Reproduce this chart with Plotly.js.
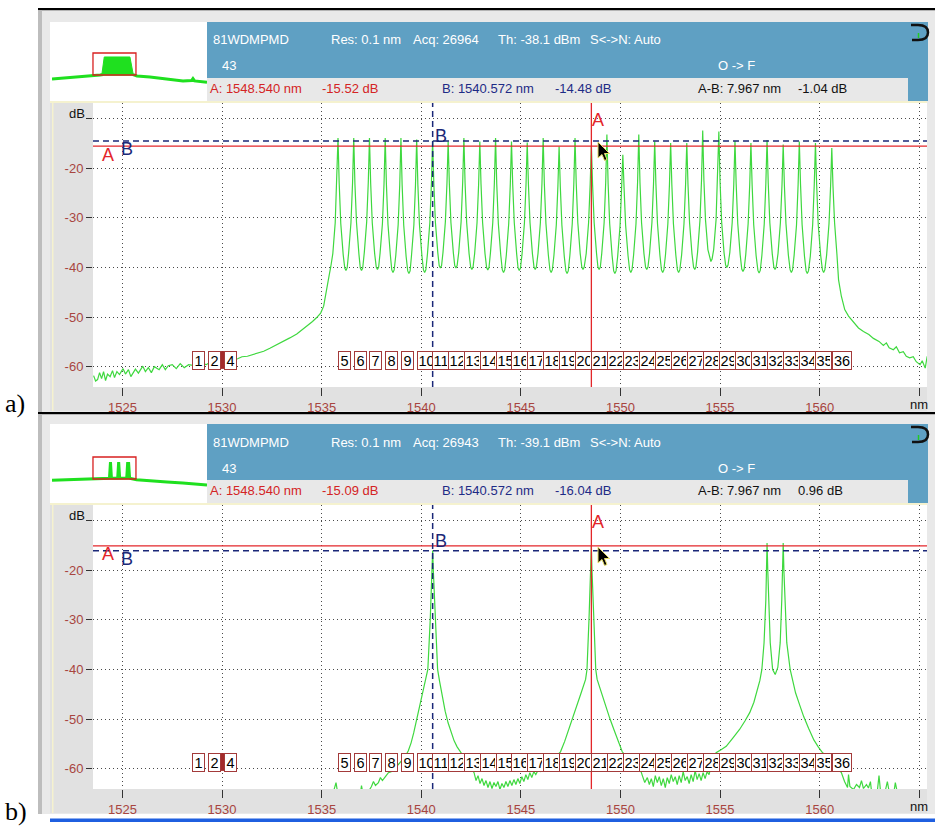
<!DOCTYPE html>
<html><head><meta charset="utf-8">
<script src="https://cdn.plot.ly/plotly-3.0.1.min.js"></script>
<style>html,body{margin:0;padding:0;background:#fff;}#chart{width:935px;height:826px;}</style>
</head><body><div id="chart"></div>
<script>
// ---------------- DATA ----------------
const panelLabels = ['a)', 'b)'];
const instrName = '81WDMPMD';
const resolutionNm = '0.1';
const traceNo = '43';
const acqCount = ['26964', '26943'];
const thresholdDbm = ['-38.1', '-39.1'];
const cursorA_nm = [1548.540, 1548.540];
const cursorA_dB = [-15.52, -15.09];
const cursorB_nm = [1540.572, 1540.572];
const cursorB_dB = [-14.48, -16.04];
const deltaAB_nm = ['7.967', '7.967'];
const deltaAB_dB = ['-1.04', '0.96'];

const xTickVals = [1525, 1530, 1535, 1540, 1545, 1550, 1555, 1560, 1565];
const xTickText = ['1525', '1530', '1535', '1540', '1545', '1550', '1555', '1560', ''];
const yTickVals = [-10, -20, -30, -40, -50, -60];
const yTickText = ['', '-20', '-30', '-40', '-50', '-60'];
const xRange = [1523.52, 1565.39];
const yRange = [-64.1, -6.84];

const chanLabels = ['1','2','4','5','6','7','8','9','10','11','12','13','14','15','16','17','18','19','20','21','22','23','24','25','26','27','28','29','30','31','32','33','34','35','36'];
const chanNm = [1528.49,1529.31,1530.10,1535.82,1536.61,1537.40,1538.19,1538.98,1539.77,1540.56,1541.35,1542.14,1542.94,1543.73,1544.53,1545.32,1546.12,1546.92,1547.72,1548.51,1549.32,1550.12,1550.92,1551.72,1552.52,1553.33,1554.13,1554.94,1555.75,1556.55,1557.36,1558.17,1558.98,1559.79,1560.61];
const chanBoxDb = -58.66;

// panel a spectrum [nm, dB]
const tailLeftA = [[1523.55,-61.8],[1523.65,-62.9],[1523.75,-62.6],[1523.85,-61.2],[1523.95,-62.4],[1524.05,-61.0],[1524.15,-62.8],[1524.25,-61.5],[1524.38,-62.0],[1524.5,-60.8],[1524.6,-62.2],[1524.72,-61.0],[1524.85,-61.6],[1525.03,-60.4],[1525.15,-61.5],[1525.3,-60.6],[1525.42,-62.0],[1525.53,-61.4],[1525.65,-60.5],[1525.8,-61.3],[1526.02,-59.9],[1526.15,-61.0],[1526.3,-60.2],[1526.45,-61.2],[1526.6,-60.0],[1526.84,-60.6],[1527.0,-59.6],[1527.15,-60.6],[1527.3,-59.8],[1527.5,-59.6],[1527.7,-60.4],[1527.9,-59.4],[1528.1,-60.2],[1528.32,-59.6],[1528.6,-59.8],[1528.9,-59.2],[1529.2,-59.6],[1529.5,-58.9],[1529.8,-59.3],[1530.1,-58.6],[1530.4,-59.0],[1530.78,-58.4],[1531.0,-58.0],[1531.27,-57.9],[1531.5,-57.6],[1531.8,-57.2],[1532.09,-56.9],[1532.4,-56.3],[1532.75,-55.6],[1533.1,-54.9],[1533.4,-54.2],[1533.75,-53.4],[1534.05,-52.5],[1534.3,-51.8],[1534.54,-50.9],[1534.75,-50.1],[1534.95,-49.2],[1535.1,-47.8],[1535.2,-45.8],[1535.3,-43.5],[1535.38,-41.5],[1535.46,-39.8]];
const peaksA = [
[1535.56,-37.2],[1535.68,-31.0],[1535.76,-23.2],[1535.82,-13.9],[1535.88,-23.0],[1535.96,-31.2],[1536.08,-37.4],[1536.16,-40.1],[1536.22,-40.6],[1536.28,-40.1],
[1536.35,-37.2],[1536.47,-31.0],[1536.55,-23.0],[1536.61,-13.9],[1536.67,-23.2],[1536.75,-31.0],[1536.87,-37.3],[1536.94,-40.1],[1537.00,-40.6],[1537.06,-40.1],
[1537.14,-37.0],[1537.26,-30.8],[1537.34,-22.8],[1537.40,-13.9],[1537.46,-23.0],[1537.54,-31.0],[1537.66,-37.2],[1537.74,-39.9],[1537.80,-40.4],[1537.86,-39.9],
[1537.93,-37.2],[1538.05,-31.2],[1538.13,-23.2],[1538.19,-13.9],[1538.25,-23.2],[1538.33,-31.4],[1538.45,-37.6],[1538.52,-40.5],[1538.58,-41.0],[1538.64,-40.5],
[1538.72,-37.6],[1538.84,-31.4],[1538.92,-23.3],[1538.98,-13.9],[1539.04,-23.4],[1539.12,-31.5],[1539.24,-37.8],[1539.32,-40.7],[1539.38,-41.2],[1539.44,-40.7],
[1539.51,-37.6],[1539.63,-31.4],[1539.71,-23.4],[1539.77,-14.2],[1539.83,-23.4],[1539.91,-31.4],[1540.03,-37.5],[1540.11,-40.5],[1540.17,-41.0],[1540.23,-40.5],
[1540.31,-37.3],[1540.43,-31.0],[1540.51,-23.0],[1540.57,-14.48],[1540.63,-23.0],[1540.71,-30.9],[1540.83,-37.0],[1540.90,-39.6],[1540.96,-40.1],[1541.02,-39.6],
[1541.09,-37.0],[1541.21,-30.8],[1541.29,-23.0],[1541.35,-14.6],[1541.41,-23.1],[1541.49,-31.0],[1541.61,-37.0],[1541.68,-39.6],[1541.74,-40.1],[1541.80,-39.6],
[1541.88,-37.0],[1542.00,-30.8],[1542.08,-22.8],[1542.14,-13.9],[1542.20,-23.0],[1542.28,-31.0],[1542.40,-37.2],[1542.48,-39.9],[1542.54,-40.4],[1542.60,-39.9],
[1542.68,-37.2],[1542.80,-31.0],[1542.88,-23.2],[1542.94,-14.6],[1543.00,-23.2],[1543.08,-31.0],[1543.20,-37.2],[1543.28,-40.0],[1543.34,-40.5],[1543.40,-40.0],
[1543.47,-37.2],[1543.59,-31.0],[1543.67,-23.0],[1543.73,-13.9],[1543.79,-23.2],[1543.87,-31.2],[1543.99,-37.5],[1544.07,-40.5],[1544.13,-41.0],[1544.19,-40.5],
[1544.27,-37.5],[1544.39,-31.2],[1544.47,-23.2],[1544.53,-14.6],[1544.59,-23.2],[1544.67,-31.0],[1544.79,-37.3],[1544.86,-40.1],[1544.92,-40.6],[1544.98,-40.1],
[1545.06,-37.3],[1545.18,-31.0],[1545.26,-23.2],[1545.32,-14.8],[1545.38,-23.2],[1545.46,-31.0],[1545.58,-37.2],[1545.66,-39.9],[1545.72,-40.4],[1545.78,-39.9],
[1545.86,-37.2],[1545.98,-31.0],[1546.06,-23.0],[1546.12,-13.9],[1546.18,-23.2],[1546.26,-31.2],[1546.38,-37.5],[1546.46,-40.5],[1546.52,-41.0],[1546.58,-40.5],
[1546.66,-37.6],[1546.78,-31.4],[1546.86,-23.6],[1546.92,-15.6],[1546.98,-23.6],[1547.06,-31.5],[1547.18,-37.8],[1547.26,-40.7],[1547.32,-41.2],[1547.38,-40.7],
[1547.46,-37.6],[1547.58,-31.2],[1547.66,-23.0],[1547.72,-13.9],[1547.78,-23.0],[1547.86,-31.0],[1547.98,-37.2],[1548.06,-39.9],[1548.12,-40.4],[1548.18,-39.9],
[1548.28,-37.2],[1548.40,-31.0],[1548.48,-23.2],[1548.54,-15.52],[1548.60,-23.2],[1548.68,-31.0],[1548.80,-37.2],[1548.87,-39.9],[1548.93,-40.4],[1548.99,-39.9],
[1549.06,-37.2],[1549.18,-31.0],[1549.26,-22.8],[1549.32,-13.2],[1549.38,-23.0],[1549.46,-31.2],[1549.58,-37.6],[1549.66,-40.7],[1549.72,-41.2],[1549.78,-40.7],
[1549.86,-37.8],[1549.98,-31.6],[1550.06,-23.8],[1550.12,-17.3],[1550.18,-23.8],[1550.26,-31.5],[1550.38,-37.6],[1550.46,-40.5],[1550.52,-41.0],[1550.58,-40.5],
[1550.66,-37.5],[1550.78,-31.2],[1550.86,-22.8],[1550.92,-13.2],[1550.98,-22.8],[1551.06,-31.0],[1551.18,-37.2],[1551.26,-39.9],[1551.32,-40.4],[1551.38,-39.9],
[1551.46,-37.2],[1551.58,-31.0],[1551.66,-23.2],[1551.72,-14.6],[1551.78,-23.2],[1551.86,-31.2],[1551.98,-37.5],[1552.06,-40.5],[1552.12,-41.0],[1552.18,-40.5],
[1552.26,-37.5],[1552.38,-31.2],[1552.46,-23.3],[1552.52,-14.9],[1552.58,-23.3],[1552.66,-31.2],[1552.78,-37.5],[1552.86,-40.5],[1552.92,-41.0],[1552.98,-40.5],
[1553.07,-37.5],[1553.19,-31.2],[1553.27,-23.3],[1553.33,-14.9],[1553.39,-23.2],[1553.47,-31.0],[1553.59,-37.2],[1553.67,-39.9],[1553.73,-40.4],[1553.79,-39.9],
[1553.87,-37.0],[1553.99,-30.6],[1554.07,-22.4],[1554.13,-12.4],[1554.19,-22.4],[1554.27,-30.4],[1554.39,-36.4],[1554.48,-38.3],[1554.54,-38.8],[1554.60,-38.3],
[1554.68,-36.4],[1554.80,-30.4],[1554.88,-22.4],[1554.94,-12.6],[1555.00,-22.6],[1555.08,-30.8],[1555.20,-37.0],[1555.28,-39.5],[1555.34,-40.0],[1555.40,-39.5],
[1555.49,-37.0],[1555.61,-31.0],[1555.69,-23.2],[1555.75,-14.5],[1555.81,-23.2],[1555.89,-31.2],[1556.01,-37.4],[1556.09,-40.3],[1556.15,-40.8],[1556.21,-40.3],
[1556.29,-37.4],[1556.41,-31.2],[1556.49,-23.3],[1556.55,-14.9],[1556.61,-23.3],[1556.69,-31.4],[1556.81,-37.6],[1556.90,-40.6],[1556.96,-41.1],[1557.02,-40.6],
[1557.10,-37.6],[1557.22,-31.2],[1557.30,-23.0],[1557.36,-14.3],[1557.42,-23.0],[1557.50,-31.0],[1557.62,-37.2],[1557.70,-39.9],[1557.76,-40.4],[1557.82,-39.9],
[1557.91,-37.2],[1558.03,-31.0],[1558.11,-23.4],[1558.17,-15.2],[1558.23,-23.4],[1558.31,-31.2],[1558.43,-37.5],[1558.52,-40.5],[1558.58,-41.0],[1558.64,-40.5],
[1558.72,-37.5],[1558.84,-31.4],[1558.92,-23.2],[1558.98,-14.6],[1559.04,-23.2],[1559.12,-31.4],[1559.24,-37.8],[1559.32,-40.7],[1559.38,-41.2],[1559.44,-40.7],
[1559.53,-37.8],[1559.65,-31.4],[1559.73,-23.3],[1559.79,-14.9],[1559.85,-23.3],[1559.93,-31.4],[1560.05,-37.5],[1560.14,-40.5],[1560.20,-41.0],[1560.26,-40.5],
[1560.35,-37.5],[1560.47,-31.2],[1560.55,-23.6],[1560.61,-15.9],[1560.67,-23.6],[1560.75,-31.0]];
const tailRightA = [[1560.87,-37.5],[1560.95,-42.5],[1561.09,-45.8],[1561.26,-48.5],[1561.45,-49.8],[1561.61,-50.5],[1561.8,-51.5],[1561.95,-52.2],[1562.2,-52.9],[1562.47,-53.5],[1562.7,-54.3],[1562.98,-54.9],[1563.2,-55.7],[1563.35,-55.2],[1563.49,-56.2],[1563.7,-56.6],[1563.85,-56.0],[1564.01,-57.2],[1564.2,-57.0],[1564.35,-57.9],[1564.52,-58.2],[1564.7,-58.0],[1564.85,-59.0],[1565.04,-59.6],[1565.15,-58.8],[1565.3,-60.3],[1565.4,-57.9]];

// panel b spectrum [nm, dB]
const peakB_B = [[1535.5,-66],[1535.65,-63.6],[1535.72,-62.8],[1535.8,-64.8],[1536.3,-66],[1536.95,-64.8],[1537.0,-63.4],[1537.06,-64.8],[1537.35,-64.6],[1537.5,-63.6],[1537.6,-62.6],[1537.7,-63.4],[1537.85,-62.8],[1537.95,-61.8],[1538.05,-62.4],[1538.2,-61.6],[1538.35,-60.8],[1538.49,-60.6],[1538.65,-59.8],[1538.84,-59.2],[1539.0,-58.4],[1539.19,-57.6],[1539.35,-56.4],[1539.49,-54.8],[1539.62,-52.8],[1539.74,-50.7],[1539.87,-48.5],[1539.99,-46.1],[1540.12,-44.2],[1540.24,-42.1],[1540.33,-40.0],[1540.45,-30.0],[1540.51,-23.3],[1540.545,-19.5],[1540.572,-16.04],[1540.60,-19.5],[1540.635,-23.3],[1540.70,-30.0],[1540.82,-40.0],[1540.92,-42.4],[1541.05,-45.2],[1541.2,-48.4],[1541.35,-50.8],[1541.5,-52.8],[1541.65,-54.4],[1541.8,-55.6],[1541.95,-56.6],[1542.1,-57.4],[1542.3,-58.6],[1542.5,-60.0],[1542.65,-60.8]];
const noiseB_1 = [[1542.75,-62.4],[1542.85,-61.4],[1542.95,-63.0],[1543.05,-62.0],[1543.15,-63.4],[1543.25,-62.4],[1543.35,-63.8],[1543.45,-62.6],[1543.55,-64.0],[1543.65,-62.8],[1543.75,-63.6],[1543.85,-62.6],[1543.95,-64.2],[1544.05,-63.0],[1544.15,-63.8],[1544.25,-62.6],[1544.35,-63.6],[1544.45,-62.4],[1544.55,-63.4],[1544.65,-62.2],[1544.75,-63.2],[1544.85,-62.0],[1544.95,-63.0],[1545.05,-61.6],[1545.15,-62.6],[1545.25,-61.2],[1545.35,-62.2],[1545.45,-60.8],[1545.55,-61.8],[1545.65,-60.6],[1545.75,-61.2],[1545.85,-60.4]];
const peakB_A = [[1546.0,-60.6],[1546.3,-59.6],[1546.6,-58.2],[1546.99,-56.6],[1547.2,-54.5],[1547.41,-52.1],[1547.62,-49.8],[1547.82,-47.5],[1548.02,-44.8],[1548.25,-42.0],[1548.32,-40.0],[1548.42,-30.0],[1548.48,-23.3],[1548.515,-19.3],[1548.54,-15.09],[1548.565,-19.3],[1548.60,-23.3],[1548.66,-30.0],[1548.76,-40.0],[1548.83,-42.0],[1549.05,-44.8],[1549.26,-47.5],[1549.46,-49.8],[1549.67,-52.1],[1549.88,-54.4],[1550.09,-56.6],[1550.4,-58.0],[1550.7,-59.0],[1550.97,-59.8],[1551.1,-61.4],[1551.22,-62.8]];
const noiseB_2 = [[1551.35,-61.8],[1551.45,-63.2],[1551.55,-62.0],[1551.65,-63.6],[1551.75,-61.4],[1551.85,-62.8],[1551.95,-61.6],[1552.05,-63.4],[1552.15,-62.0],[1552.25,-63.8],[1552.35,-61.8],[1552.45,-63.0],[1552.55,-61.2],[1552.65,-62.6],[1552.75,-61.6],[1552.85,-63.2],[1552.95,-61.4],[1553.05,-62.8],[1553.15,-60.6],[1553.25,-62.4],[1553.35,-61.6],[1553.45,-63.0],[1553.55,-61.2],[1553.65,-62.6],[1553.75,-60.4],[1553.85,-62.2],[1553.95,-61.0],[1554.05,-62.4],[1554.15,-60.8],[1554.25,-62.0],[1554.35,-60.6],[1554.45,-61.2]];
const peakB_pair = [[1554.6,-58.4],[1554.8,-56.8],[1555.05,-56.2],[1555.31,-55.5],[1555.65,-53.8],[1555.98,-52.1],[1556.25,-50.4],[1556.49,-48.7],[1556.7,-46.6],[1556.84,-44.7],[1557.0,-42.2],[1557.1,-40.0],[1557.21,-34.6],[1557.30,-25.9],[1557.33,-20.5],[1557.36,-14.5],[1557.40,-20.5],[1557.44,-25.9],[1557.52,-34.6],[1557.64,-40.0],[1557.77,-41.0],[1557.90,-39.6],[1558.02,-34.6],[1558.10,-25.9],[1558.14,-20.5],[1558.17,-14.5],[1558.21,-20.5],[1558.25,-25.9],[1558.35,-34.6],[1558.52,-40.0],[1558.64,-42.4],[1558.79,-44.7],[1559.0,-47.2],[1559.2,-49.5],[1559.45,-51.9],[1559.71,-54.2],[1559.93,-55.6],[1560.15,-56.8],[1560.45,-57.9],[1560.73,-58.8],[1560.9,-59.8],[1561.09,-60.8]];
const noiseB_3 = [[1561.25,-62.6],[1561.4,-63.8],[1561.45,-61.2],[1561.52,-63.6],[1561.7,-64.2],[1561.85,-63.2],[1562.0,-63.8],[1562.1,-62.4],[1562.2,-64.0],[1562.35,-63.2],[1562.45,-63.9],[1562.55,-62.6],[1562.6,-64.4],[1562.9,-64.4],[1562.98,-61.4],[1563.05,-64.3],[1563.3,-64.4],[1563.4,-62.6],[1563.48,-64.4],[1563.75,-64.2],[1563.8,-62.8],[1563.88,-64.4],[1564.1,-66],[1565.4,-66]];

// overview thumbnails [nm, dB]
const thumbA_left = [[1483.6,-74.4],[1490,-73.2],[1496.3,-72],[1502,-71],[1508,-69.2],[1515,-68],[1522.6,-66.6],[1530.4,-64],[1533.5,-63]];
const thumbA_block = [[1532,-66],[1534.5,-17.2],[1559.5,-17.2],[1563,-66]];
const thumbA_right = [[1562.5,-63],[1566.4,-66.6],[1579,-69.2],[1595.6,-74.4],[1611.2,-79.6],[1619.5,-78.5],[1620.9,-73.5],[1622.5,-79.5],[1630.7,-82.2],[1634.6,-83]];
const thumbB_line = [[1483.6,-67.5],[1496,-66.5],[1508,-66],[1522,-65],[1530,-64.5],[1536,-63.5],[1539.6,-62],[1540.57,-20],[1541.5,-62],[1547.6,-62],[1548.54,-20],[1549.5,-62],[1556.4,-61.5],[1557.36,-20],[1557.8,-45],[1558.17,-20],[1559.2,-62],[1566,-66],[1580,-68],[1595.6,-71.8],[1611,-74.5],[1622,-77],[1634.6,-80]];
const thumbXRange = [1483.6, 1634.6];
const thumbYRange = [-129.1, 71.2];

// ---------------- STYLE / LAYOUT ----------------
const W = 935, H = 826, OFF = 402;
const PX = x => x / W, PY = y => 1 - y / H;
const FONT = 'Liberation Sans, Arial, sans-serif';
const GREEN = '#3fd83f', TGREEN = '#1fe01f';
const RED = '#e3262a', NAVY = '#1b2878', TICKRED = '#a8453f';
const BLUE = '#5fa0c3';
const GRID = '#4a4a4a';

const xs = a => a.map(p => p[0]), ys = a => a.map(p => p[1]);
const specA = tailLeftA.concat(peaksA, tailRightA);
const specB = peakB_B.concat(noiseB_1, peakB_A, noiseB_2, peakB_pair, noiseB_3);

const lineT = (d, xa, ya, color, w) => ({type:'scatter', mode:'lines', x:xs(d), y:ys(d), xaxis:xa, yaxis:ya, line:{color:color, width:w}, hoverinfo:'skip'});
const traces = [
  lineT(specA, 'x', 'y', GREEN, 1.2),
  lineT(specB, 'x2', 'y2', GREEN, 1.2),
  lineT(thumbA_left, 'x3', 'y3', TGREEN, 3),
  Object.assign(lineT(thumbA_block, 'x3', 'y3', TGREEN, 1), {fill:'toself', fillcolor:TGREEN}),
  lineT(thumbA_right, 'x3', 'y3', TGREEN, 3),
  lineT(thumbB_line, 'x4', 'y4', TGREEN, 3)
];

function mainX(p) {
  return {domain:[PX(93), PX(927)], range:xRange, anchor:p ? 'y2' : 'y', tickmode:'array', tickvals:xTickVals, ticktext:xTickText,
    ticks:'outside', ticklen:8, tickwidth:1, tickcolor:'#333', showgrid:true, gridcolor:GRID, gridwidth:1, griddash:'1px,3px',
    zeroline:false, showline:false, tickfont:{family:FONT, size:13, color:TICKRED}, fixedrange:true};
}
function mainY(p) {
  const o = p * OFF;
  return {domain:[PY(387 + o), PY(103 + o)], range:yRange, anchor:p ? 'x2' : 'x', tickmode:'array', tickvals:yTickVals, ticktext:yTickText,
    ticks:'outside', ticklen:6, tickwidth:1, tickcolor:'#333', showgrid:true, gridcolor:GRID, gridwidth:1, griddash:'1px,3px',
    zeroline:false, showline:false, tickfont:{family:FONT, size:13, color:TICKRED}, fixedrange:true};
}
function thumbX(p) { return {domain:[PX(52), PX(207)], range:thumbXRange, visible:false, anchor:p ? 'y4' : 'y3', fixedrange:true}; }
function thumbY(p) { const o = p * 404; return {domain:[PY(100 + o), PY(23 + o)], range:thumbYRange, visible:false, anchor:p ? 'x4' : 'x3', fixedrange:true}; }

const shapes = [];
const annotations = [];
const rect = (x0, y0, x1, y1, fill, layer) => shapes.push({type:'rect', xref:'paper', yref:'paper', x0:PX(x0), x1:PX(x1), y0:PY(y1), y1:PY(y0), fillcolor:fill, line:{width:0}, layer:layer || 'below'});
const pathPx = pts => pts.map((q, i) => (i ? 'L' : 'M') + PX(q[0]) + ',' + PY(q[1])).join(' ') + ' Z';

for (let p = 0; p < 2; p++) {
  const o = p * OFF;
  const xa = p ? 'x2' : 'x', ya = p ? 'y2' : 'y';
  // frame
  rect(38, 8 + p * 404, 935, 10.5 + p * 404, '#000');
  rect(38, 10.5 + p * 404, 935, 412 + o, '#e9e9e9');
  rect(38, 10.5 + p * 404, 42, 412 + o, '#bdbdbd');
  rect(50, 22 + o, 207, 101 + o, '#ffffff');
  rect(207, 22 + o, 928, 78 + o, BLUE);
  rect(908, 78 + o, 928, 101 + o, BLUE);
  rect(207, 78 + o, 908, 101 + o, '#e8e8e8');
  rect(50, 101 + o, 927, 411 + o, '#e1e1e1');
  rect(50, 101 + o, 927, 103 + o, '#f5f2cf');
  rect(52, 101 + o, 53.5, 411 + o, '#f5f2cf');
  rect(93, 103 + o, 927, 387 + o, '#ffffff');
  // bracket icon in blue column
  shapes.push({type:'path', xref:'paper', yref:'paper', layer:'above', line:{color:'#111', width:2.5},
    path:'M' + PX(911) + ',' + PY(25 + o) + ' L' + PX(918) + ',' + PY(25 + o) + ' Q' + PX(928) + ',' + PY(25 + o) + ' ' + PX(928) + ',' + PY(32.5 + o) +
         ' Q' + PX(928) + ',' + PY(40 + o) + ' ' + PX(918) + ',' + PY(40 + o) + ' L' + PX(912) + ',' + PY(40 + o)});
  shapes.push({type:'line', xref:'paper', yref:'paper', layer:'above', x0:PX(918.5), x1:PX(918.5), y0:PY(33 + o), y1:PY(38 + o), line:{color:'#2c2', width:1.5}});
  // thumbnail zoom window
  shapes.push({type:'rect', xref:p ? 'x4' : 'x3', yref:p ? 'y4' : 'y3', x0:xRange[0], x1:xRange[1], y0:yRange[0], y1:yRange[1], line:{color:'#d82020', width:1.3}, layer:'above'});
  // cursors
  shapes.push({type:'line', xref:xa + ' domain', yref:ya, x0:0, x1:1, y0:cursorB_dB[p], y1:cursorB_dB[p], line:{color:NAVY, width:1.5, dash:'6px,4px'}, layer:'above'});
  shapes.push({type:'line', xref:xa + ' domain', yref:ya, x0:0, x1:1, y0:cursorA_dB[p], y1:cursorA_dB[p], line:{color:RED, width:1.3}, layer:'above'});
  shapes.push({type:'line', xref:xa, yref:ya + ' domain', x0:cursorB_nm[p], x1:cursorB_nm[p], y0:0, y1:1, line:{color:NAVY, width:1.5, dash:'6px,4px'}, layer:'above'});
  shapes.push({type:'line', xref:xa, yref:ya + ' domain', x0:cursorA_nm[p], x1:cursorA_nm[p], y0:0, y1:1, line:{color:RED, width:1.3}, layer:'above'});
  // mouse pointer
  const tx = 598, ty = (p ? 547 : 142);
  shapes.push({type:'path', xref:'paper', yref:'paper', layer:'above', fillcolor:'#000', line:{color:'#e8df6a', width:1},
    path:pathPx([[tx, ty], [tx, ty + 16], [tx + 4, ty + 12.5], [tx + 6.5, ty + 18.5], [tx + 9, ty + 17.5], [tx + 6.5, ty + 11.5], [tx + 11.5, ty + 11.5]])});
  // marker bar between channel boxes 2 and 4
  shapes.push({type:'rect', xref:xa, yref:ya, xsizemode:'pixel', xanchor:chanNm[2], x0:-3.5, x1:0, y0:-60.45, y1:-56.85, fillcolor:'#a32a2a', line:{width:0}, layer:'above'});

  // header texts
  const T = (txt, x, y, color, size) => annotations.push({xref:'paper', yref:'paper', x:PX(x), y:PY(y + o), xanchor:'left', yanchor:'middle', text:txt, showarrow:false, borderpad:0, font:{family:FONT, size:size || 13, color:color}});
  T(instrName, 212, 40, '#fff');
  T('Res: ' + resolutionNm + ' nm', 330, 40, '#fff');
  T('Acq: ' + acqCount[p], 412, 40, '#fff');
  T('Th: ' + thresholdDbm[p] + ' dBm', 497, 40, '#fff');
  T('S&lt;-&gt;N: Auto', 589, 40, '#fff');
  T(traceNo, 221, 66, '#fff');
  T('O -&gt; F', 717, 66, '#fff');
  T('A: ' + cursorA_nm[p].toFixed(3) + ' nm', 209, 88.5, '#d42424');
  T(cursorA_dB[p].toFixed(2) + ' dB', 321, 88.5, '#d42424');
  T('B: ' + cursorB_nm[p].toFixed(3) + ' nm', 441, 88.5, '#1e2b86');
  T(cursorB_dB[p].toFixed(2) + ' dB', 554, 88.5, '#1e2b86');
  T('A-B: ' + deltaAB_nm[p] + ' nm', 697, 88.5, '#111');
  T(deltaAB_dB[p] + ' dB', 797, 88.5, '#111');

  // axis unit labels
  annotations.push({xref:'paper', yref:ya, x:PX(87), y:yTickVals[0], xanchor:'right', yanchor:'middle', yshift:5, text:'dB', showarrow:false, font:{family:FONT, size:13, color:'#111'}});
  annotations.push({xref:xa, yref:'paper', x:xTickVals[8], y:PY(404 + o), xanchor:'center', yanchor:'middle', text:'nm', showarrow:false, font:{family:FONT, size:13, color:'#111'}});

  // cursor labels
  const L = (txt, color, extra) => annotations.push(Object.assign({text:txt, showarrow:false, font:{family:FONT, size:18, color:color}, borderpad:0}, extra));
  L('A', RED, {xref:xa, yref:'paper', x:cursorA_nm[p], y:PY(120 + o), xanchor:'left', yanchor:'middle', xshift:0});
  L('B', NAVY, {xref:xa, yref:ya, x:cursorB_nm[p], y:Math.max(cursorA_dB[p], cursorB_dB[p]), xanchor:'left', yanchor:'middle', xshift:1, yshift:4.5});
  L('A', RED, {xref:'paper', yref:ya, x:PX(108), y:cursorA_dB[p], xanchor:'center', yanchor:'middle', yshift:-8.5});
  L('B', NAVY, {xref:'paper', yref:ya, x:PX(127), y:cursorB_dB[p], xanchor:'center', yanchor:'middle', yshift:-8.5});

  // channel boxes (last box is wide enough to show its full number)
  chanLabels.forEach((lab, i) => {
    const last = i === chanLabels.length - 1;
    annotations.push({xref:xa, yref:ya, x:chanNm[i], y:chanBoxDb, xanchor:'left', yanchor:'middle', text:lab, showarrow:false,
      bgcolor:'#ffffff', bordercolor:'#a33a3a', borderwidth:1, borderpad:0.5, width:lab.length > 1 ? (last ? 17 : 13.5) : 10, height:16,
      align:(lab.length > 1 && !last) ? 'left' : 'center', font:{family:FONT, size:14.5, color:'#000'}});
  });

  // panel letter
  annotations.push({xref:'paper', yref:'paper', x:PX(3), y:PY(p ? 811 : 403), xanchor:'left', yanchor:'middle', text:panelLabels[p], showarrow:false, font:{family:'Liberation Serif, Times New Roman, serif', size:26, color:'#000'}});
}
// bottom blue edge of panel b
rect(50, 818.5, 935, 822, '#1f5fe0', 'above');

const layout = {
  width:W, height:H, margin:{l:0, r:0, t:0, b:0, pad:0}, paper_bgcolor:'#ffffff', plot_bgcolor:'rgba(0,0,0,0)',
  showlegend:false, hovermode:false, font:{family:FONT},
  xaxis:mainX(0), yaxis:mainY(0), xaxis2:mainX(1), yaxis2:mainY(1),
  xaxis3:thumbX(0), yaxis3:thumbY(0), xaxis4:thumbX(1), yaxis4:thumbY(1),
  shapes:shapes, annotations:annotations
};
Plotly.newPlot('chart', traces, layout, {staticPlot:true, displayModeBar:false});
</script>
</body></html>
